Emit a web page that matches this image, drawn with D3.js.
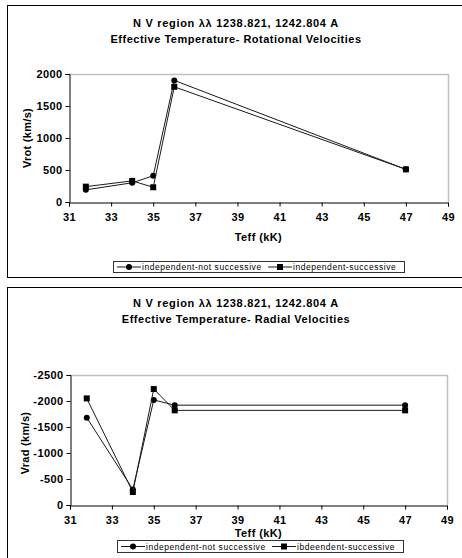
<!DOCTYPE html>
<html>
<head>
<meta charset="utf-8">
<script src="https://cdn.jsdelivr.net/npm/d3@7"></script>
<style>
  html, body { margin: 0; padding: 0; background: #fff; }
  svg { display: block; font-family: "Liberation Sans", Arial, sans-serif; }
</style>
</head>
<body>
<svg id="chart" width="462" height="558"></svg>
<script>
// Effective temperature (kK) of each star
const teff = [31.8, 34, 35, 36, 47];

// Rotational velocities (km/s)
const vrotNotSuccessive = [190, 300, 410, 1900, 510];
const vrotSuccessive = [240, 330, 230, 1800, 510];

// Radial velocities (km/s)
const vradNotSuccessive = [-1680, -300, -2020, -1920, -1920];
const vradSuccessive = [-2050, -250, -2230, -1820, -1820];

const xTicks = [31, 33, 35, 37, 39, 41, 43, 45, 47, 49];
const vrotTicks = [0, 500, 1000, 1500, 2000];
const vradTicks = [0, -500, -1000, -1500, -2000, -2500];

const titleLine1 = "N V region \u03bb\u03bb 1238.821, 1242.804 A";

const svg = d3.select("#chart");

// plain hyphen for negative numbers
const fmt = d => String(d);

function drawPanel(cfg) {
  const g = svg.append("g");

  // outer frame (right and bottom edges run past the window)
  g.append("rect")
    .attr("x", 7.5).attr("y", cfg.frameTop + 0.5)
    .attr("width", 460).attr("height", cfg.frameHeight)
    .attr("fill", "#fff").attr("stroke", "#000").attr("stroke-width", 1);

  // titles
  g.append("text")
    .attr("x", 236).attr("y", cfg.titleY)
    .attr("text-anchor", "middle")
    .attr("font-size", 11).attr("font-weight", "bold")
    .attr("letter-spacing", 0.7)
    .text(titleLine1);
  g.append("text")
    .attr("x", 236).attr("y", cfg.titleY + 16)
    .attr("text-anchor", "middle")
    .attr("font-size", 11).attr("font-weight", "bold")
    .attr("letter-spacing", 0.5)
    .text(cfg.subtitle);

  const x = d3.scaleLinear().domain([31, 49]).range([cfg.left, cfg.right]);
  const y = d3.scaleLinear().domain(cfg.yDomain).range([cfg.bottom, cfg.top]);

  // plot area border (grey on top and right)
  g.append("path")
    .attr("d", `M${cfg.left},${cfg.top + 0.5}H${cfg.right + 0.5}V${cfg.bottom}`)
    .attr("fill", "none").attr("stroke", "#c0c0c0").attr("stroke-width", 1.5);

  // axes
  const xAxis = d3.axisBottom(x).tickValues(xTicks).tickSize(4).tickPadding(cfg.xPad).tickFormat(fmt);
  const yAxis = d3.axisLeft(y).tickValues(cfg.yTicks).tickSize(4).tickPadding(3).tickFormat(fmt);

  const gx = g.append("g").attr("transform", `translate(0,${cfg.bottom + 0.5})`).call(xAxis);
  const gy = g.append("g").attr("transform", `translate(${cfg.left + 0.5},0)`).call(yAxis);
  [gx, gy].forEach(a => {
    a.select(".domain").attr("stroke", "#000");
    a.selectAll(".tick line").attr("stroke", "#000");
    a.selectAll("text")
      .attr("font-family", "'Liberation Sans', Arial, sans-serif")
      .attr("font-size", 11).attr("font-weight", "bold")
      .attr("letter-spacing", 0.4).attr("fill", "#000");
  });

  // axis titles
  g.append("text")
    .attr("x", (cfg.left + cfg.right) / 2).attr("y", cfg.xLabelY)
    .attr("text-anchor", "middle")
    .attr("font-size", 11).attr("font-weight", "bold")
    .attr("letter-spacing", 0.4)
    .text("Teff (kK)");
  g.append("text")
    .attr("transform", `translate(${cfg.yLabelX},${cfg.yLabelCy}) rotate(-90)`)
    .attr("text-anchor", "middle")
    .attr("font-size", 11).attr("font-weight", "bold")
    .attr("letter-spacing", 0.3)
    .text(cfg.yLabel);

  const line = d3.line().x(d => x(d[0])).y(d => y(d[1]));

  cfg.series.forEach(s => {
    const pts = teff.map((t, i) => [t, s.values[i]]);
    g.append("path")
      .attr("d", line(pts))
      .attr("fill", "none").attr("stroke", "#1a1a1a").attr("stroke-width", 1);
    drawMarkers(g, pts.map(p => [x(p[0]), y(p[1])]), s.shape);
  });

  // legend
  const lg = g.append("g");
  lg.append("rect")
    .attr("x", cfg.legend.x + 0.5).attr("y", cfg.legend.y + 0.5)
    .attr("width", cfg.legend.w).attr("height", cfg.legend.h)
    .attr("fill", "#fff").attr("stroke", "#333").attr("stroke-width", 1);
  const ly = cfg.legend.y + cfg.legend.h / 2 + 0.5;
  cfg.series.forEach((s, i) => {
    const x0 = cfg.legend.items[i];
    lg.append("line")
      .attr("x1", x0).attr("x2", x0 + 24)
      .attr("y1", ly).attr("y2", ly)
      .attr("stroke", "#1a1a1a").attr("stroke-width", 1);
    drawMarkers(lg, [[x0 + 12, ly]], s.shape);
    lg.append("text")
      .attr("x", x0 + 25).attr("y", ly + 3)
      .attr("font-size", 8.5).attr("letter-spacing", 0.55)
      .text(s.name);
  });
}

function drawMarkers(g, pts, shape) {
  if (shape === "circle") {
    g.selectAll(null).data(pts).enter().append("circle")
      .attr("cx", d => d[0]).attr("cy", d => d[1]).attr("r", 3)
      .attr("fill", "#000");
  } else {
    g.selectAll(null).data(pts).enter().append("rect")
      .attr("x", d => d[0] - 3).attr("y", d => d[1] - 3)
      .attr("width", 6).attr("height", 6)
      .attr("fill", "#000");
  }
}

drawPanel({
  frameTop: 5, frameHeight: 272,
  titleY: 27,
  subtitle: "Effective Temperature- Rotational Velocities",
  left: 69, right: 448, top: 74, bottom: 202,
  yDomain: [0, 2000], yTicks: vrotTicks,
  xPad: 7, xLabelY: 241,
  yLabel: "Vrot (km/s)", yLabelX: 31, yLabelCy: 138,
  legend: { x: 113, y: 261, w: 291, h: 11, items: [117, 268] },
  series: [
    { name: "independent-not successive", values: vrotNotSuccessive, shape: "circle" },
    { name: "independent-successive", values: vrotSuccessive, shape: "square" }
  ]
});

drawPanel({
  frameTop: 287, frameHeight: 300,
  titleY: 307,
  subtitle: "Effective Temperature- Radial Velocities",
  left: 70, right: 447, top: 375, bottom: 505,
  yDomain: [0, -2500], yTicks: vradTicks,
  xPad: 7, xLabelY: 537,
  yLabel: "Vrad (km/s)", yLabelX: 29, yLabelCy: 443,
  legend: { x: 117, y: 540, w: 286, h: 12, items: [121, 272] },
  series: [
    { name: "independent-not successive", values: vradNotSuccessive, shape: "circle" },
    { name: "ibdeendent-successive", values: vradSuccessive, shape: "square" }
  ]
});
</script>
</body>
</html>
